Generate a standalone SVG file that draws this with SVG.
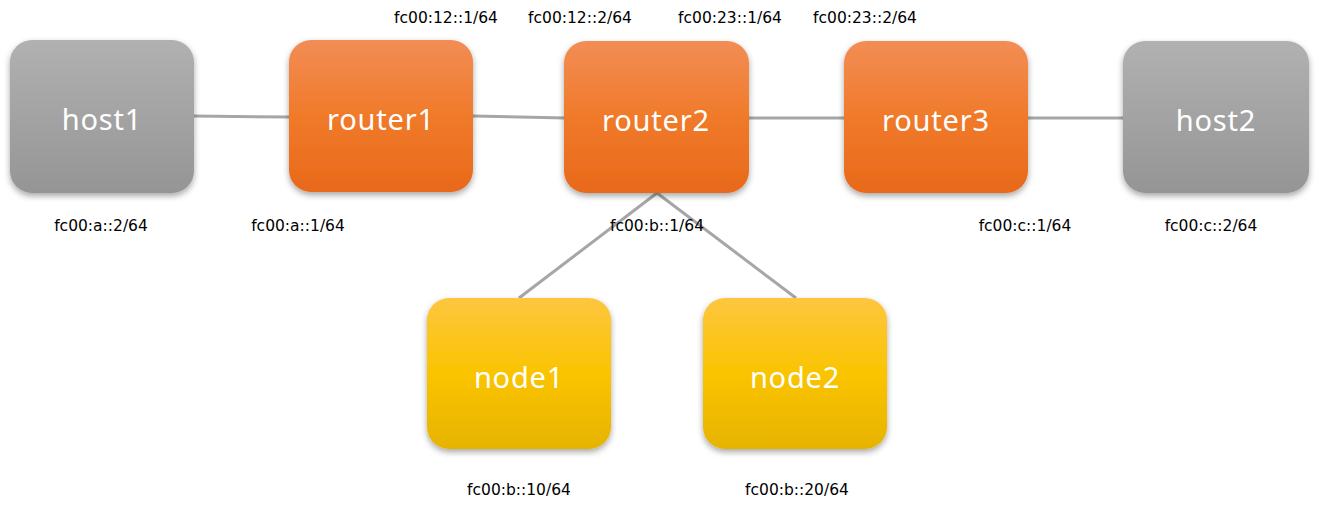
<svg xmlns="http://www.w3.org/2000/svg" width="1321" height="506" viewBox="0 0 1321 506">
<defs>
<linearGradient id="gGray" x1="0" y1="0" x2="0" y2="1"><stop offset="0" stop-color="#b1b1b1"/><stop offset="1" stop-color="#959595"/></linearGradient>
<linearGradient id="gOrange" x1="0" y1="0" x2="0" y2="1"><stop offset="0" stop-color="#f28d55"/><stop offset="0.5" stop-color="#f07a2a"/><stop offset="1" stop-color="#e8691b"/></linearGradient>
<linearGradient id="gYellow" x1="0" y1="0" x2="0" y2="1"><stop offset="0" stop-color="#fdc640"/><stop offset="0.5" stop-color="#fbc400"/><stop offset="1" stop-color="#e6b300"/></linearGradient>
<filter id="sh" x="-10%" y="-10%" width="125%" height="130%"><feDropShadow dx="0" dy="3" stdDeviation="3" flood-color="#000" flood-opacity="0.35"/></filter>
<style>
.box{filter:url(#sh)}
.lbl{font-family:"Noto Sans","Open Sans",sans-serif;font-size:29px;letter-spacing:0.8px;fill:#fff;text-anchor:middle}
.addr{font-family:"DejaVu Sans","Liberation Sans",sans-serif;font-size:15.5px;fill:#000;text-anchor:middle}
.link{stroke:#a6a6a6;stroke-width:3;fill:none}
</style>
</defs>
<rect width="1321" height="506" fill="#fff"/>
<g id="connectors">
<line class="link" x1="193" y1="116" x2="290" y2="117"/>
<line class="link" x1="473" y1="116" x2="565" y2="118"/>
<line class="link" x1="748" y1="118" x2="845" y2="118"/>
<line class="link" x1="1027" y1="118" x2="1124" y2="118"/>
<line class="link" x1="657" y1="193" x2="519" y2="298"/>
<line class="link" x1="657" y1="193" x2="796" y2="298"/>
</g>
<g id="host1"><rect class="box" x="10" y="40" width="184" height="153" rx="22" fill="url(#gGray)"/><text class="lbl" x="102" y="130">host1</text></g>
<g id="router1"><rect class="box" x="289" y="40" width="184" height="152" rx="22" fill="url(#gOrange)"/><text class="lbl" x="381" y="130">router1</text></g>
<g id="router2"><rect class="box" x="564" y="41" width="185" height="152" rx="22" fill="url(#gOrange)"/><text class="lbl" x="656" y="131">router2</text></g>
<g id="router3"><rect class="box" x="844" y="41" width="184" height="152" rx="22" fill="url(#gOrange)"/><text class="lbl" x="936" y="131">router3</text></g>
<g id="host2"><rect class="box" x="1123" y="41" width="186" height="152" rx="22" fill="url(#gGray)"/><text class="lbl" x="1216" y="131">host2</text></g>
<g id="node1"><rect class="box" x="427" y="298" width="184" height="151" rx="22" fill="url(#gYellow)"/><text class="lbl" x="519" y="388">node1</text></g>
<g id="node2"><rect class="box" x="703" y="298" width="184" height="151" rx="22" fill="url(#gYellow)"/><text class="lbl" x="795" y="388">node2</text></g>
<g id="addresses">
<text class="addr" x="446" y="23">fc00:12::1/64</text>
<text class="addr" x="580" y="23">fc00:12::2/64</text>
<text class="addr" x="730" y="23">fc00:23::1/64</text>
<text class="addr" x="865" y="23">fc00:23::2/64</text>
<text class="addr" x="101" y="231">fc00:a::2/64</text>
<text class="addr" x="298" y="231">fc00:a::1/64</text>
<text class="addr" x="657" y="231">fc00:b::1/64</text>
<text class="addr" x="1025" y="231">fc00:c::1/64</text>
<text class="addr" x="1211" y="231">fc00:c::2/64</text>
<text class="addr" x="519" y="495">fc00:b::10/64</text>
<text class="addr" x="797" y="495">fc00:b::20/64</text>
</g>
</svg>
